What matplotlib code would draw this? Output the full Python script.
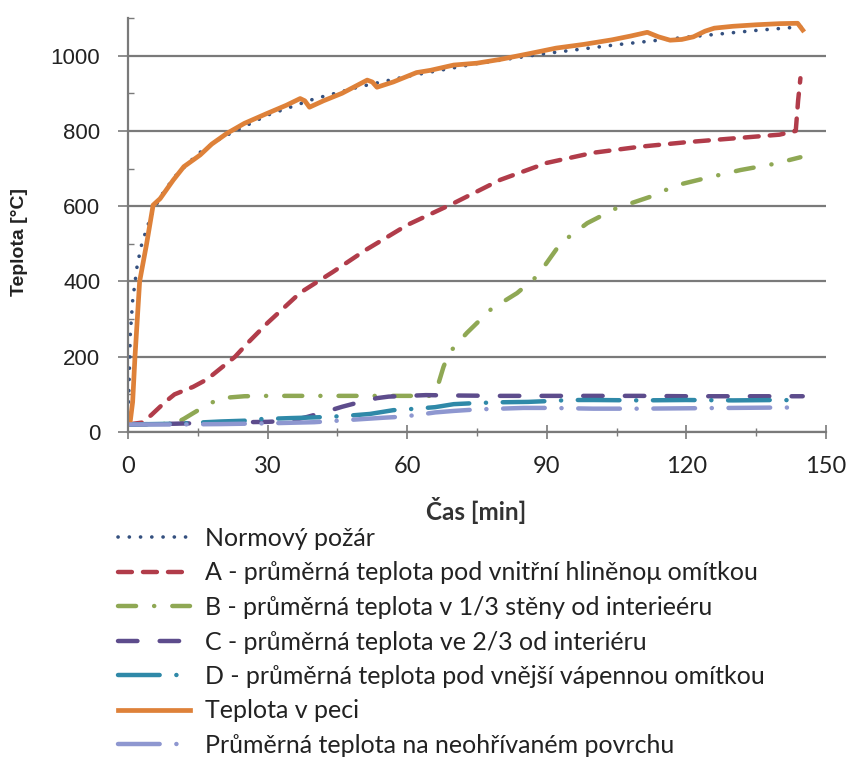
import matplotlib
matplotlib.use("Agg")
import matplotlib.pyplot as plt
from matplotlib.ticker import MultipleLocator

plt.rcParams['lines.scale_dashes'] = False

# --- data ---
t_norm = [0, 0.5, 1, 2, 3, 5, 7, 10, 15, 20, 30, 40, 50, 60, 75, 90, 105, 120, 135, 145]
T_norm = [20, 261, 349, 445, 502, 576, 626, 678, 739, 781, 842, 885, 918, 945, 979, 1006, 1029, 1049, 1067, 1077]

t_a = [0, 3, 5, 8, 10, 14, 17, 20, 23, 26, 30, 37, 44, 51, 60, 70, 80, 90, 100, 110, 120, 130, 140, 143.5, 144, 144.5]
T_a = [20, 25, 45, 80, 100, 120, 140, 170, 200, 240, 290, 370, 425, 483, 550, 608, 670, 715, 742, 758, 770, 780, 790, 800, 880, 940]

t_b = [0, 10, 12, 14, 17, 20, 25, 30, 40, 50, 60, 65, 66.5, 67.8, 69, 72.8, 78, 83.6, 88, 93, 98.7, 105, 112, 118, 125, 131.6, 138.7, 144.5]
T_b = [20, 22, 35, 50, 72, 90, 95, 96, 96, 96, 96, 96, 120, 173, 210, 263, 326, 369, 415, 502, 555, 595, 624, 656, 677, 696, 712, 730]

t_c = [0, 10, 20, 30, 35, 38.5, 42, 46, 50, 53.5, 56, 60, 64, 70, 80, 90, 100, 110, 120, 130, 140, 145]
T_c = [20, 22, 25, 27, 30, 40, 52, 67, 80, 90, 94, 96, 98, 97, 96, 96, 96, 96, 95, 95, 95, 95]

t_d = [0, 10, 15, 20, 25, 28, 35, 38, 43, 48, 52, 57, 62, 66, 70, 75, 80, 86, 90, 95, 100, 110, 120, 130, 140, 145]
T_d = [20, 22, 25, 28, 30, 34, 37, 38, 40, 44, 48, 58, 62, 66, 74, 77, 79, 80, 82, 85, 85, 84, 85, 84, 85, 84]

t_pec = [0, 0.5, 1, 1.5, 2.5, 4, 5.4, 6.9, 9.7, 12, 15.5, 18, 21.2, 25, 29.8, 34, 37, 38, 39, 42, 46, 51.4, 52.5,
         53.5, 57, 62, 65, 70, 75, 80, 86.5, 92, 98, 104, 108, 111.6, 114, 116.5, 119, 121.5, 124, 126, 130, 135,
         140, 143.9, 145]
T_pec = [20, 30, 80, 200, 400, 500, 603, 620, 669, 705, 736, 765, 793, 820, 846, 868, 886, 880, 863, 880, 900, 935, 930,
         916, 930, 955, 961, 975, 980, 990, 1006, 1020, 1030, 1042, 1052, 1062, 1050, 1041, 1043, 1050, 1065, 1073, 1078, 1082,
         1085, 1086, 1068]

t_pov = [0, 10, 20, 30, 40, 45, 50, 55, 58, 62, 66, 70, 75, 80, 85, 90, 100, 110, 120, 130, 140, 145]
T_pov = [20, 20, 21, 23, 26, 30, 34, 38, 40, 45, 52, 56, 60, 62, 64, 64, 62, 62, 63, 64, 65, 65]

labels = [
    "Normový požár",
    "A - průměrná teplota pod vnitřní hliněnoμ omítkou",
    "B - průměrná teplota v 1/3 stěny od interieéru",
    "C - průměrná teplota ve 2/3 od interiéru",
    "D - průměrná teplota pod vnější vápennou omítkou",
    "Teplota v peci",
    "Průměrná teplota na neohřívaném povrchu",
]

fig = plt.figure(figsize=(8.53, 7.76), dpi=100)
ax = fig.add_axes([128 / 853, 1 - 432 / 776, (826 - 128) / 853, (432 - 18) / 776])

lines = []
lines += ax.plot(t_norm, T_norm, color='#34507f', lw=2.6, ls=(0, (0.1, 8)), dash_capstyle='round')
lines += ax.plot(t_a, T_a, color='#b13c4a', lw=3.2, ls=(0, (10, 8)), dash_capstyle='round')
lines += ax.plot(t_b, T_b, color='#8fa854', lw=3.2, ls=(0, (13, 13, 0.1, 13)), dash_capstyle='round')
lines += ax.plot(t_c, T_c, color='#5d4c8c', lw=3.2, ls=(0, (14, 16)), dash_capstyle='round')
lines += ax.plot(t_d, T_d, color='#2f89a8', lw=3.2, ls=(0, (30, 12, 0.1, 12)), dash_capstyle='round')
lines += ax.plot(t_pec, T_pec, color='#de8139', lw=3.4)
lines += ax.plot(t_pov, T_pov, color='#8e97d0', lw=3.2, ls=(0, (30, 12, 0.1, 12)), dash_capstyle='round')

ax.set_xlim(0, 150)
ax.set_ylim(0, 1100)
ax.xaxis.set_major_locator(MultipleLocator(30))
ax.xaxis.set_minor_locator(MultipleLocator(15))
ax.yaxis.set_minor_locator(MultipleLocator(100))
ax.set_yticks([0, 200, 400, 600, 800, 1000])

ax.grid(axis='y', color='#7a7a7a', lw=1.6)
ax.set_axisbelow(True)
for s in ['top', 'right']:
    ax.spines[s].set_visible(False)
for s in ['left', 'bottom']:
    ax.spines[s].set_color('#7a7a7a')
    ax.spines[s].set_linewidth(1.6)

ax.tick_params(axis='x', which='major', direction='inout', length=10, width=1.2, color='#7a7a7a', pad=12,
               labelsize=17)
ax.tick_params(axis='x', which='minor', direction='inout', length=6, width=1, color='#7a7a7a')
ax.tick_params(axis='y', which='major', direction='out', length=7, width=1.2, color='#7a7a7a', pad=13,
               labelsize=16)
ax.tick_params(axis='y', which='minor', direction='in', length=4, width=1, color='#7a7a7a')
for lab in ax.get_xticklabels():
    lab.set_family('Lato')
    lab.set_color('#222222')
for lab in ax.get_yticklabels():
    lab.set_family('Liberation Sans')
    lab.set_color('#222222')

fig.text(20 / 853, 1 - 242 / 776, "Teplota [°C]", rotation=90, ha='center', va='center',
         fontsize=14, fontweight='bold', family='Liberation Sans', color='#222222')
fig.text(476 / 853, 1 - 511 / 776, "Čas [min]", ha='center', va='center',
         fontsize=17.5, fontweight='bold', family='Lato', color='#333333')

fig.legend(lines, labels, loc='upper left', bbox_to_anchor=(118 / 853, 1 - 527 / 776), frameon=False,
           prop={'family': 'Lato', 'size': 18}, labelcolor='#222222', handlelength=2.9, handletextpad=0.57,
           labelspacing=0.46, borderaxespad=0, borderpad=0)

fig.savefig('out.png', dpi=100)
